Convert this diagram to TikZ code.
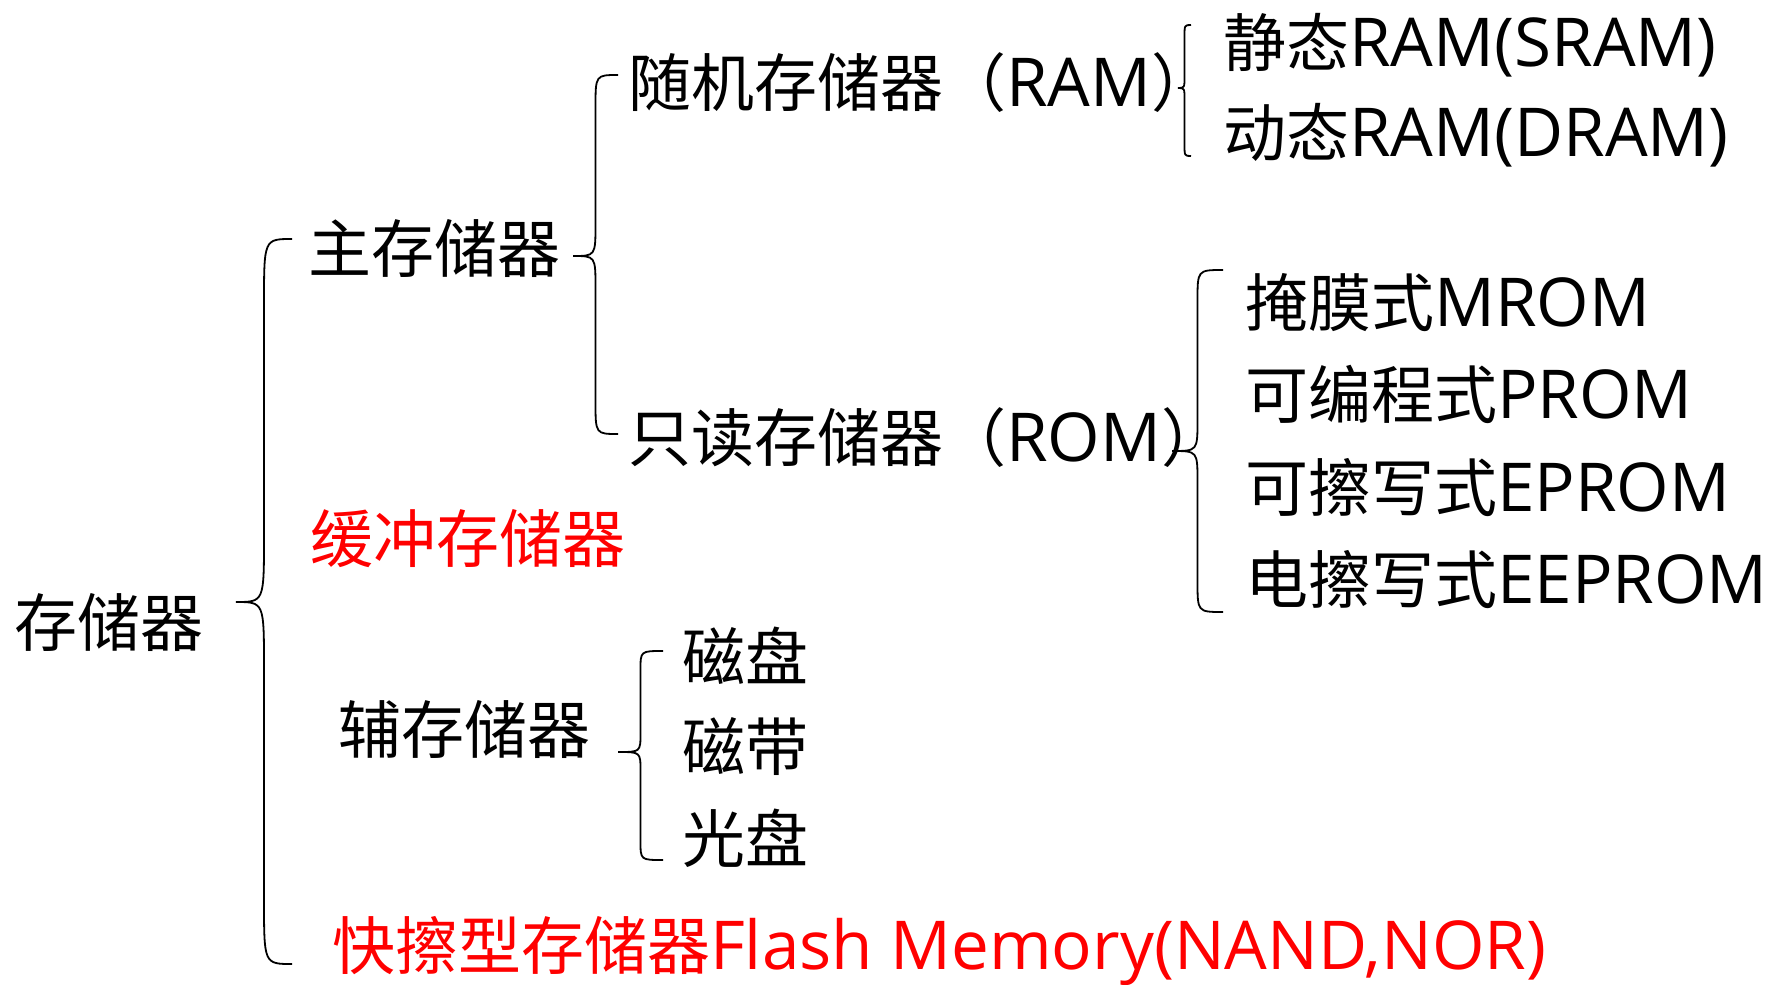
\documentclass[tikz,border=0pt]{standalone}
\usepackage{fontspec}
\setmainfont{Noto Sans CJK SC}
\newfontfamily\lat{Open Sans}[Scale=1.07] % wider latin letters
\usetikzlibrary{calc}

% curly brace: top end, tip, bottom end
\newcommand{\curlybrace}[3]{%
  \draw[brace] let \p1=(#1), \p2=(#2), \p3=(#3) in
    (\p1) .. controls ({0.5*\x1+0.5*\x2},\y1) .. ({0.5*\x1+0.5*\x2},{\y1-0.09*(\y1-\y3)})
    -- ({0.5*\x1+0.5*\x2},{\y2+0.09*(\y1-\y3)})
    .. controls ({0.5*\x1+0.5*\x2},\y2) .. (\p2)
    .. controls ({0.5*\x1+0.5*\x2},\y2) .. ({0.5*\x1+0.5*\x2},{\y2-0.09*(\y1-\y3)})
    -- ({0.5*\x1+0.5*\x2},{\y3+0.09*(\y1-\y3)})
    .. controls ({0.5*\x1+0.5*\x2},\y3) .. (\p3);}

\begin{document}
\begin{tikzpicture}[
        x=1pt, y=-1pt, % pixel coordinates, y downwards
        item/.style={anchor=west, inner sep=0pt, text height=55pt, text depth=7pt,
            font=\fontsize{63}{70}\selectfont},
        hot/.style={item, text=red}, % red entries
        brace/.style={draw, line width=1.8pt},
    ]
    \useasboundingbox (0,0) rectangle (1767,985);

    % level 0 and 1
    \node[item] (mem) at (14,622) {存储器};
    \node[item] (main) at (308,248) {主存储器};
    \node[hot] (cache) at (310,538) {缓冲存储器};
    \node[item] (aux) at (338,729) {辅存储器};
    \node[hot] (flash) at (332,945) {快擦型存储器{\lat Flash Memory(NAND,NOR)}};

    % main memory
    \node[item] (ram) at (628,82) {随机存储器（{\lat RAM}）};
    \node[item] (rom) at (628,437) {只读存储器（{\lat ROM}）};
    \node[item] (sram) at (1223,42) {静态{\lat RAM(SRAM)}};
    \node[item] (dram) at (1223,132) {动态{\lat RAM(DRAM)}};
    \node[item] (mrom) at (1245,302) {掩膜式{\lat MROM}};
    \node[item] (prom) at (1245,394) {可编程式{\lat PROM}};
    \node[item] (eprom) at (1245,487) {可擦写式{\lat EPROM}};
    \node[item] (eeprom) at (1245,579) {电擦写式{\lat EEPROM}};

    % secondary memory
    \node[item] (disk) at (682,656) {磁盘};
    \node[item] (tape) at (682,746) {磁带};
    \node[item] (optical) at (682,838) {光盘};

    % brace ends
    \coordinate (memtop) at (292,239);
    \coordinate (memtip) at (236,602);
    \coordinate (membot) at (292,964);
    \coordinate (maintop) at (618,75);
    \coordinate (maintip) at (573,256);
    \coordinate (mainbot) at (618,434);
    \coordinate (ramtop) at (1191,25);
    \coordinate (ramtip) at (1178,88);
    \coordinate (rambot) at (1191,156);
    \coordinate (romtop) at (1223,270);
    \coordinate (romtip) at (1172,451);
    \coordinate (rombot) at (1223,612);
    \coordinate (auxtop) at (663,651);
    \coordinate (auxtip) at (618,752);
    \coordinate (auxbot) at (663,860);

    \curlybrace{memtop}{memtip}{membot}
    \curlybrace{maintop}{maintip}{mainbot}
    \curlybrace{ramtop}{ramtip}{rambot}
    \curlybrace{romtop}{romtip}{rombot}
    \curlybrace{auxtop}{auxtip}{auxbot}
\end{tikzpicture}
\end{document}
